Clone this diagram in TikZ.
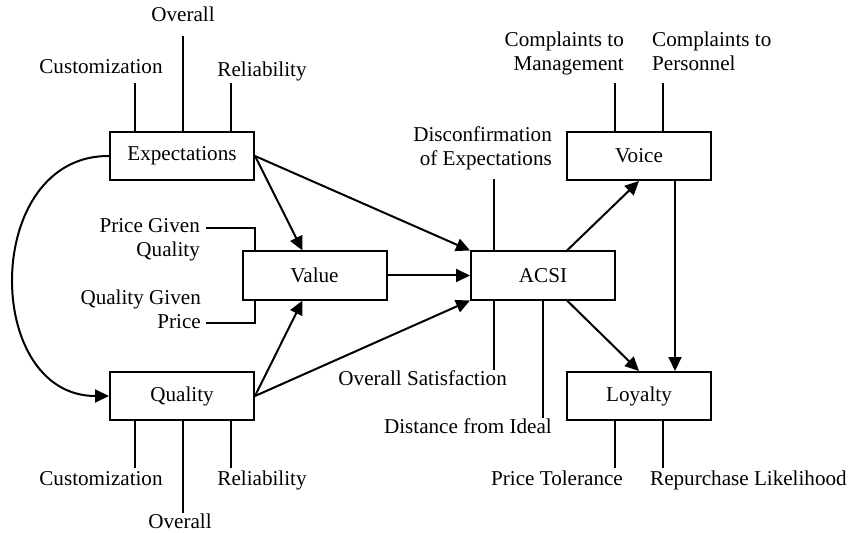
\documentclass[tikz,border=0pt]{standalone}
\usepackage{fontspec}
\setmainfont{Liberation Serif}
\usetikzlibrary{arrows.meta}
\newcommand\figfont{\fontsize{21.2}{23.5}\selectfont}
\begin{document}
\begin{tikzpicture}[x=1bp,y=-1bp,
  box/.style={draw, line width=2bp, minimum width=144bp, minimum height=48bp, inner sep=0pt, font=\figfont},
  lab/.style={inner sep=0pt, font=\figfont},
  ln/.style={line width=2bp},
  arr/.style={line width=2bp, -{Triangle[length=14bp,width=13bp]}}]
\useasboundingbox (0,0) rectangle (851,533);
% boxes
\node[box] (exp) at (182,156) {Expectations};
\node[box] (val) at (314.5,275.5) {Value};
\node[box] (qual) at (182,396) {Quality};
\node[box] (acsi) at (543,275.5) {ACSI};
\node[box] (voice) at (639,156) {Voice};
\node[box] (loy) at (639,396) {Loyalty};
% labels
\node[lab, anchor=base] (eov) at (183,22) {Overall};
\node[lab, anchor=base] (ecu) at (101,74) {Customization};
\node[lab, anchor=base] (ere) at (262,77) {Reliability};
\node[lab, anchor=base] (qcu) at (101,485) {Customization};
\node[lab, anchor=base] (qre) at (262,485) {Reliability};
\node[lab, anchor=base] (qov) at (180,528) {Overall};
\node[lab, anchor=base east] (pgq) at (200,233) {\begin{tabular}[t]{@{}r@{}}Price Given\\Quality\end{tabular}};
\node[lab, anchor=base east] (qgp) at (201,305) {\begin{tabular}[t]{@{}r@{}}Quality Given\\Price\end{tabular}};
\node[lab, anchor=base east] (dis) at (552,142) {\begin{tabular}[t]{@{}r@{}}Disconfirmation\\of Expectations\end{tabular}};
\node[lab, anchor=base east] (osat) at (507,385) {Overall Satisfaction};
\node[lab, anchor=base east] (dfi) at (552,433) {Distance from Ideal};
\node[lab, anchor=base east] (ctm) at (624,47) {\begin{tabular}[t]{@{}r@{}}Complaints to\\Management\end{tabular}};
\node[lab, anchor=base west] (ctp) at (652,47) {\begin{tabular}[t]{@{}l@{}}Complaints to\\Personnel\end{tabular}};
\node[lab, anchor=base east] (ptol) at (623,485) {Price Tolerance};
\node[lab, anchor=base west] (rep) at (650,485) {Repurchase Likelihood};
% free ends of indicator lines
\coordinate (ec) at (135,83); \coordinate (eo) at (183,36); \coordinate (er) at (231,83);
\coordinate (qc) at (135,468); \coordinate (qo) at (183,513); \coordinate (qr) at (231,468);
\coordinate (ad) at (494,179); \coordinate (aos) at (494,370); \coordinate (adi) at (543,418);
\coordinate (vm) at (615,83); \coordinate (vp) at (663,83);
\coordinate (lp) at (615,468); \coordinate (lr) at (663,468);
\coordinate (pv1) at (255,228); \coordinate (pv2) at (206,228);
\coordinate (qv1) at (255,323); \coordinate (qv2) at (206,323);
% indicator lines
\draw[ln] (exp.north -| ec) -- (ec);
\draw[ln] (exp.north -| eo) -- (eo);
\draw[ln] (exp.north -| er) -- (er);
\draw[ln] (qual.south -| qc) -- (qc);
\draw[ln] (qual.south -| qo) -- (qo);
\draw[ln] (qual.south -| qr) -- (qr);
\draw[ln] (acsi.north -| ad) -- (ad);
\draw[ln] (acsi.south -| aos) -- (aos);
\draw[ln] (acsi.south -| adi) -- (adi);
\draw[ln] (voice.north -| vm) -- (vm);
\draw[ln] (voice.north -| vp) -- (vp);
\draw[ln] (loy.south -| lp) -- (lp);
\draw[ln] (loy.south -| lr) -- (lr);
\draw[ln] (val.north -| pv1) -- (pv1) -- (pv2);
\draw[ln] (val.south -| qv1) -- (qv1) -- (qv2);
% structural arrows
\draw[arr] (exp.west) .. controls (-18,155) and (-18,396) .. (qual.west);
\draw[arr] (exp.east) -- ([xshift=-12bp]val.north);
\draw[arr] (exp.east) -- (acsi.north west);
\draw[arr] (qual.east) -- ([xshift=-12bp]val.south);
\draw[arr] (qual.east) -- (acsi.south west);
\draw[arr] (val.east) -- (acsi.west);
\draw[arr] ([xshift=24bp]acsi.north) -- (voice.south);
\draw[arr] ([xshift=24bp]acsi.south) -- (loy.north);
\draw[arr] ([xshift=36bp]voice.south) -- ([xshift=36bp]loy.north);
\end{tikzpicture}
\end{document}
